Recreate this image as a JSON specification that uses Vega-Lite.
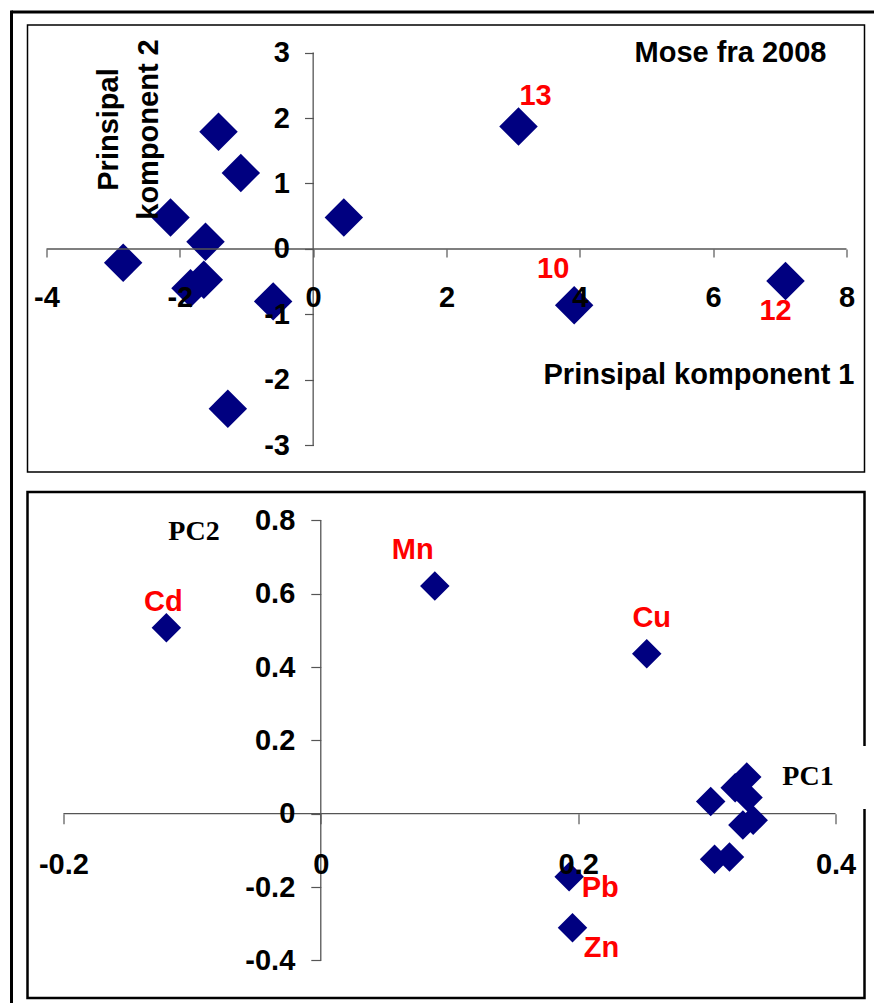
{
  "$schema": "https://vega.github.io/schema/vega-lite/v6.json",
  "background": "white",
  "padding": {"left": 8.5, "top": 8, "right": 0, "bottom": 0},
  "datasets": {
    "scores": [
      {"id": 1, "pc1": -1.42, "pc2": 1.79},
      {"id": 2, "pc1": -1.085, "pc2": 1.16},
      {"id": 3, "pc1": -2.14, "pc2": 0.48},
      {"id": 4, "pc1": -1.615, "pc2": 0.11},
      {"id": 5, "pc1": -2.85, "pc2": -0.21},
      {"id": 6, "pc1": -1.84, "pc2": -0.6},
      {"id": 7, "pc1": -1.64, "pc2": -0.47},
      {"id": 8, "pc1": -0.6, "pc2": -0.8},
      {"id": 9, "pc1": -1.28, "pc2": -2.44},
      {"id": 11, "pc1": 0.46, "pc2": 0.48},
      {"id": 13, "pc1": 3.08, "pc2": 1.87},
      {"id": 10, "pc1": 3.915, "pc2": -0.86},
      {"id": 12, "pc1": 7.085, "pc2": -0.49}
    ],
    "loadings": [
      {"element": "Cd", "pc1": -0.12, "pc2": 0.507},
      {"element": "Mn", "pc1": 0.0886, "pc2": 0.621},
      {"element": "Cu", "pc1": 0.2533, "pc2": 0.436},
      {"element": "Pb", "pc1": 0.193, "pc2": -0.172},
      {"element": "Zn", "pc1": 0.1956, "pc2": -0.311},
      {"element": "", "pc1": 0.303, "pc2": 0.033},
      {"element": "", "pc1": 0.331, "pc2": 0.1},
      {"element": "", "pc1": 0.322, "pc2": 0.071},
      {"element": "", "pc1": 0.332, "pc2": 0.044},
      {"element": "", "pc1": 0.336, "pc2": -0.018},
      {"element": "", "pc1": 0.328, "pc2": -0.031},
      {"element": "", "pc1": 0.306, "pc2": -0.124},
      {"element": "", "pc1": 0.3176, "pc2": -0.118}
    ]
  },
  "config": {
    "axis": {
      "grid": false,
      "domain": false,
      "labelFont": "Liberation Sans",
      "labelFontWeight": "bold",
      "labelFontSize": 29,
      "labelColor": "black",
      "tickColor": "#555555",
      "tickWidth": 1.2,
      "labelOverlap": false,
      "labelFlush": false,
      "labelBound": false,
      "titleColor": "black",
      "titleFont": "Liberation Sans",
      "titleFontWeight": "bold",
      "titleFontSize": 29,
      "titleAlign": "center",
      "titleBaseline": "middle",
      "labelExpr": "datum.value < 0 ? '-' + format(-datum.value, '~g') : format(datum.value, '~g')"
    },
    "text": {"font": "Liberation Sans", "fontWeight": "bold", "fontSize": 29}
  },
  "bounds": "flush",
  "spacing": 20,
  "vconcat": [
    {
      "width": 837,
      "height": 447,
      "view": {"stroke": "black", "strokeWidth": 1.5},
      "data": {"name": "scores"},
      "layer": [
        {
          "mark": {"type": "point", "shape": "diamond", "filled": true, "color": "#000080", "opacity": 1, "size": 1480},
          "encoding": {
            "x": {
              "field": "pc1", "type": "quantitative",
              "scale": {"domain": [-4.285, 8.27], "nice": false, "zero": false},
              "axis": {
                "zindex": 1,
                "values": [-4, -2, 0, 2, 4, 6, 8],
                "offset": -223,
                "tickSize": 8,
                "labelPadding": 26,
                "title": "Prinsipal komponent 1",
                "titleX": 671,
                "titleY": 125
              }
            },
            "y": {
              "field": "pc2", "type": "quantitative",
              "scale": {"domain": [-3.405, 3.42], "nice": false, "zero": false},
              "axis": {
                "zindex": 1,
                "values": [-3, -2, -1, 0, 1, 2, 3],
                "offset": -286,
                "tickSize": 9,
                "labelPadding": 15,
                "title": ["Prinsipal", "komponent 2"],
                "titleAngle": -90,
                "titleLineHeight": 40,
                "titleX": -205,
                "titleY": 104
              }
            }
          }
        },
        {
          "data": {"values": [{}]},
          "mark": {"type": "rule", "color": "black", "strokeWidth": 3},
          "encoding": {
            "x": {"datum": -4.525, "type": "quantitative", "scale": {"domain": [-4.285, 8.27], "nice": false, "zero": false}},
            "y": {"datum": 3.641, "type": "quantitative", "scale": {"domain": [-3.405, 3.42], "nice": false, "zero": false}},
            "y2": {"datum": -12.3}
          }
        },
        {
          "data": {"values": [{}]},
          "mark": {"type": "rule", "color": "black", "strokeWidth": 3},
          "encoding": {
            "x": {"datum": -4.525, "type": "quantitative", "scale": {"domain": [-4.285, 8.27], "nice": false, "zero": false}},
            "x2": {"datum": 9.0},
            "y": {"datum": 3.618, "type": "quantitative", "scale": {"domain": [-3.405, 3.42], "nice": false, "zero": false}}
          }
        },
        {
          "data": {"values": [{}]},
          "mark": {"type": "rule", "color": "#555555", "strokeWidth": 1.3},
          "encoding": {
            "x": {"datum": -4, "type": "quantitative", "scale": {"domain": [-4.285, 8.27], "nice": false, "zero": false}},
            "x2": {"datum": 8},
            "y": {"datum": 0, "type": "quantitative", "scale": {"domain": [-3.405, 3.42], "nice": false, "zero": false}}
          }
        },
        {
          "data": {"values": [{}]},
          "mark": {"type": "rule", "color": "#555555", "strokeWidth": 1.3},
          "encoding": {
            "x": {"datum": 0, "type": "quantitative", "scale": {"domain": [-4.285, 8.27], "nice": false, "zero": false}},
            "y": {"datum": -3, "type": "quantitative", "scale": {"domain": [-3.405, 3.42], "nice": false, "zero": false}},
            "y2": {"datum": 3}
          }
        },
        {
          "data": {"values": [{"title": "Mose fra 2008"}]},
          "mark": {"type": "text", "color": "black", "align": "center", "baseline": "middle"},
          "encoding": {
            "x": {"datum": 6.26, "type": "quantitative", "scale": {"domain": [-4.285, 8.27], "nice": false, "zero": false}},
            "y": {"datum": 2.99, "type": "quantitative", "scale": {"domain": [-3.405, 3.42], "nice": false, "zero": false}},
            "text": {"field": "title"}
          }
        },
        {
          "transform": [{"filter": "datum.id == 13"}],
          "mark": {"type": "text", "color": "#ff0000", "align": "center", "baseline": "middle", "dx": 17, "dy": -31},
          "encoding": {
            "x": {"field": "pc1", "type": "quantitative", "scale": {"domain": [-4.285, 8.27], "nice": false, "zero": false}},
            "y": {"field": "pc2", "type": "quantitative", "scale": {"domain": [-3.405, 3.42], "nice": false, "zero": false}},
            "text": {"field": "id"}
          }
        },
        {
          "transform": [{"filter": "datum.id == 10"}],
          "mark": {"type": "text", "color": "#ff0000", "align": "center", "baseline": "middle", "dx": -21, "dy": -36},
          "encoding": {
            "x": {"field": "pc1", "type": "quantitative", "scale": {"domain": [-4.285, 8.27], "nice": false, "zero": false}},
            "y": {"field": "pc2", "type": "quantitative", "scale": {"domain": [-3.405, 3.42], "nice": false, "zero": false}},
            "text": {"field": "id"}
          }
        },
        {
          "transform": [{"filter": "datum.id == 12"}],
          "mark": {"type": "text", "color": "#ff0000", "align": "center", "baseline": "middle", "dx": -10, "dy": 30},
          "encoding": {
            "x": {"field": "pc1", "type": "quantitative", "scale": {"domain": [-4.285, 8.27], "nice": false, "zero": false}},
            "y": {"field": "pc2", "type": "quantitative", "scale": {"domain": [-3.405, 3.42], "nice": false, "zero": false}},
            "text": {"field": "id"}
          }
        }
      ]
    },
    {
      "width": 837,
      "height": 506,
      "view": {"stroke": "black", "strokeWidth": 2.5},
      "data": {"name": "loadings"},
      "layer": [
        {
          "data": {"values": [{}]},
          "mark": {"type": "rule", "color": "#555555", "strokeWidth": 1.3},
          "encoding": {
            "x": {"datum": -0.2, "type": "quantitative", "scale": {"domain": [-0.2279, 0.4225], "nice": false, "zero": false}},
            "x2": {"datum": 0.4},
            "y": {"datum": 0, "type": "quantitative", "scale": {"domain": [-0.5026, 0.8773], "nice": false, "zero": false}}
          }
        },
        {
          "data": {"values": [{}]},
          "mark": {"type": "rule", "color": "#555555", "strokeWidth": 1.3},
          "encoding": {
            "x": {"datum": 0, "type": "quantitative", "scale": {"domain": [-0.2279, 0.4225], "nice": false, "zero": false}},
            "y": {"datum": -0.4, "type": "quantitative", "scale": {"domain": [-0.5026, 0.8773], "nice": false, "zero": false}},
            "y2": {"datum": 0.8}
          }
        },
        {
          "data": {"values": [{}]},
          "mark": {"type": "rect", "color": "white"},
          "encoding": {
            "x": {"datum": 0.3735, "type": "quantitative", "scale": {"domain": [-0.2279, 0.4225], "nice": false, "zero": false}},
            "x2": {"datum": 0.4285},
            "y": {"datum": 0.0128, "type": "quantitative", "scale": {"domain": [-0.5026, 0.8773], "nice": false, "zero": false}},
            "y2": {"datum": 0.1846}
          }
        },
        {
          "mark": {"type": "point", "shape": "diamond", "filled": true, "color": "#000080", "opacity": 1, "size": 870},
          "encoding": {
            "x": {
              "field": "pc1", "type": "quantitative",
              "scale": {"domain": [-0.2279, 0.4225], "nice": false, "zero": false},
              "axis": {
                "zindex": 1,
                "values": [-0.2, 0, 0.2, 0.4],
                "offset": -184.3,
                "tickSize": 10,
                "labelPadding": 27,
                "title": "PC1",
                "titleFont": "Liberation Serif",
                "titleFontSize": 28,
                "titleX": 780,
                "titleY": -36.8
              }
            },
            "y": {
              "field": "pc2", "type": "quantitative",
              "scale": {"domain": [-0.5026, 0.8773], "nice": false, "zero": false},
              "axis": {
                "zindex": 1,
                "values": [-0.4, -0.2, 0, 0.2, 0.4, 0.6, 0.8],
                "offset": -293.3,
                "tickSize": 10,
                "labelPadding": 16,
                "title": "PC2",
                "titleFont": "Liberation Serif",
                "titleFontSize": 28,
                "titleAngle": 0,
                "titleX": -127.3,
                "titleY": 39.9
              }
            }
          }
        },
        {
          "transform": [{"filter": "datum.element == 'Cd'"}],
          "mark": {"type": "text", "color": "#ff0000", "align": "center", "baseline": "middle", "dx": -3, "dy": -26},
          "encoding": {
            "x": {"field": "pc1", "type": "quantitative", "scale": {"domain": [-0.2279, 0.4225], "nice": false, "zero": false}},
            "y": {"field": "pc2", "type": "quantitative", "scale": {"domain": [-0.5026, 0.8773], "nice": false, "zero": false}},
            "text": {"field": "element"}
          }
        },
        {
          "transform": [{"filter": "datum.element == 'Mn'"}],
          "mark": {"type": "text", "color": "#ff0000", "align": "center", "baseline": "middle", "dx": -22, "dy": -36},
          "encoding": {
            "x": {"field": "pc1", "type": "quantitative", "scale": {"domain": [-0.2279, 0.4225], "nice": false, "zero": false}},
            "y": {"field": "pc2", "type": "quantitative", "scale": {"domain": [-0.5026, 0.8773], "nice": false, "zero": false}},
            "text": {"field": "element"}
          }
        },
        {
          "transform": [{"filter": "datum.element == 'Cu'"}],
          "mark": {"type": "text", "color": "#ff0000", "align": "center", "baseline": "middle", "dx": 5, "dy": -36},
          "encoding": {
            "x": {"field": "pc1", "type": "quantitative", "scale": {"domain": [-0.2279, 0.4225], "nice": false, "zero": false}},
            "y": {"field": "pc2", "type": "quantitative", "scale": {"domain": [-0.5026, 0.8773], "nice": false, "zero": false}},
            "text": {"field": "element"}
          }
        },
        {
          "transform": [{"filter": "datum.element == 'Pb'"}],
          "mark": {"type": "text", "color": "#ff0000", "align": "center", "baseline": "middle", "dx": 31, "dy": 11},
          "encoding": {
            "x": {"field": "pc1", "type": "quantitative", "scale": {"domain": [-0.2279, 0.4225], "nice": false, "zero": false}},
            "y": {"field": "pc2", "type": "quantitative", "scale": {"domain": [-0.5026, 0.8773], "nice": false, "zero": false}},
            "text": {"field": "element"}
          }
        },
        {
          "transform": [{"filter": "datum.element == 'Zn'"}],
          "mark": {"type": "text", "color": "#ff0000", "align": "center", "baseline": "middle", "dx": 29, "dy": 20},
          "encoding": {
            "x": {"field": "pc1", "type": "quantitative", "scale": {"domain": [-0.2279, 0.4225], "nice": false, "zero": false}},
            "y": {"field": "pc2", "type": "quantitative", "scale": {"domain": [-0.5026, 0.8773], "nice": false, "zero": false}},
            "text": {"field": "element"}
          }
        }
      ]
    }
  ]
}
